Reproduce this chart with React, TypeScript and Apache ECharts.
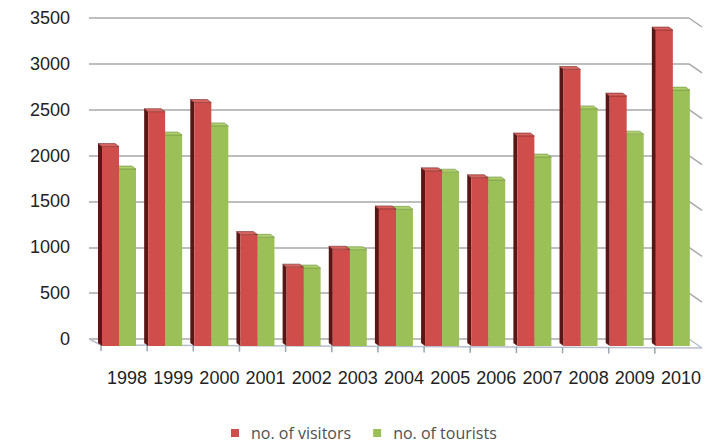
import React, { useEffect, useRef } from "react";
import * as echarts from "echarts";

// Annual counts, 1998–2010
const years = ["1998", "1999", "2000", "2001", "2002", "2003", "2004", "2005", "2006", "2007", "2008", "2009", "2010"];
const visitors = [2175, 2555, 2655, 1215, 860, 1055, 1495, 1910, 1835, 2290, 3015, 2725, 3445];
const tourists = [1930, 2300, 2400, 1185, 850, 1050, 1490, 1895, 1810, 2060, 2585, 2310, 2790];
const yTicks = [0, 500, 1000, 1500, 2000, 2500, 3000, 3500];

const SERIES_NAMES = ["no. of visitors", "no. of tourists"];

// depth offset from the back wall to the front face of the bars
const FRONT_DX = 12;
const FRONT_DY = 7;
// visible thickness of a bar (top / side faces)
const DEPTH_DX = 4;
const DEPTH_DY = 3;
const REF_BAND = 46.15;

const RED = { front: "#cf4e4b", top: "#d9645f", side: "#5a1614" };
const GREEN = { front: "#9cc058", top: "#add06d", side: "#5f7a2c" };

function barRenderer(offsetPx: number, widthPx: number, colors: { front: string; top: string; side: string }) {
  return (_params: any, api: any) => {
    const idx = api.value(0);
    const val = api.value(1);
    const top = api.coord([idx, val]);
    const base = api.coord([idx, 0]);
    const band = api.size([1, 0])[0];
    const s = band / REF_BAND;
    const x0 = top[0] - band / 2 + FRONT_DX + offsetPx * s;
    const x1 = x0 + widthPx * s;
    const yTop = top[1] + FRONT_DY;
    const yBot = base[1] + FRONT_DY;
    return {
      type: "group",
      children: [
        {
          type: "polygon",
          shape: {
            points: [
              [x0, yTop],
              [x0 - DEPTH_DX, yTop - DEPTH_DY],
              [x0 - DEPTH_DX, yBot - DEPTH_DY],
              [x0, yBot],
            ],
          },
          style: { fill: colors.side },
        },
        {
          type: "rect",
          shape: { x: x0, y: yTop, width: x1 - x0, height: yBot - yTop },
          style: { fill: colors.front },
        },
        {
          type: "polygon",
          shape: {
            points: [
              [x0, yTop],
              [x1, yTop],
              [x1 - DEPTH_DX, yTop - DEPTH_DY],
              [x0 - DEPTH_DX, yTop - DEPTH_DY],
            ],
          },
          style: { fill: colors.top, stroke: colors.side, lineWidth: 0.5 },
        },
      ],
    };
  };
}

// floor edges, front ticks and the right-hand wall
function frameRenderer(params: any, api: any) {
  const cs = params.coordSys;
  const left = cs.x;
  const right = cs.x + cs.width;
  const band = api.size([1, 0])[0];
  const zeroY = api.coord([0, 0])[1];
  const children: any[] = [];
  const gridStyle = { stroke: "#a8a8a8", lineWidth: 1.5 };
  const floorStyle = { stroke: "#b6bfcc", lineWidth: 1.5 };
  const rDx = 13;
  const rDy = 9;
  yTicks.forEach((v) => {
    if (v === 0) return;
    const y = api.coord([0, v])[1];
    children.push({
      type: "line",
      shape: { x1: right, y1: y, x2: right + rDx, y2: y + rDy },
      style: gridStyle,
    });
  });
  const fl = [left + FRONT_DX, zeroY + FRONT_DY - 1];
  const fr = [right + rDx, zeroY + rDy];
  children.push({ type: "line", shape: { x1: left, y1: zeroY, x2: fl[0], y2: fl[1] }, style: floorStyle });
  children.push({ type: "line", shape: { x1: fl[0], y1: fl[1], x2: fr[0], y2: fr[1] }, style: floorStyle });
  children.push({ type: "line", shape: { x1: right, y1: zeroY, x2: fr[0], y2: fr[1] }, style: floorStyle });
  for (let k = 0; k < years.length; k++) {
    const x = fl[0] + k * band;
    const t = k / years.length;
    const y = fl[1] + (fr[1] - fl[1]) * t;
    children.push({
      type: "line",
      shape: { x1: x, y1: y, x2: x, y2: y + 6 },
      style: { stroke: "#9aa3ae", lineWidth: 1.5 },
    });
  }
  return { type: "group", children };
}

export default function App() {
  const ref = useRef<HTMLDivElement>(null);

  useEffect(() => {
    if (!ref.current) return;
    const chart = echarts.init(ref.current, null, { renderer: "svg" });
    chart.setOption({
      animation: false,
      backgroundColor: "#ffffff",
      grid: { left: 89, right: 22, top: 18, bottom: 104, containLabel: false },
      legend: {
        data: SERIES_NAMES,
        left: 226,
        top: 419,
        icon: "rect",
        itemWidth: 8,
        itemHeight: 8,
        itemGap: 22,
        textStyle: {
          fontFamily: "Open Sans",
          fontSize: 16,
          lineHeight: 18,
          color: "#505050",
          padding: [0, 0, 0, 7],
        },
      },
      xAxis: {
        type: "category",
        data: years,
        axisLine: { show: false },
        axisTick: { show: false },
        axisLabel: {
          interval: 0,
          margin: 30,
          padding: [0, 0, 0, 30],
          fontFamily: "Liberation Sans, Arial",
          fontSize: 18,
          color: "#222222",
        },
      },
      yAxis: {
        type: "value",
        min: 0,
        max: 3500,
        interval: 500,
        axisLine: { show: false },
        axisTick: { show: false },
        axisLabel: {
          margin: 19,
          fontFamily: "Liberation Sans, Arial",
          fontSize: 18,
          color: "#222222",
          formatter: (v: number) => String(v),
        },
        splitLine: { lineStyle: { color: "#a8a8a8", width: 1.5 } },
      },
      series: [
        {
          name: "frame",
          type: "custom",
          coordinateSystem: "cartesian2d",
          clip: false,
          silent: true,
          z: 1,
          data: [[0, 0]],
          encode: { x: 0, y: 1 },
          renderItem: frameRenderer,
        },
        {
          name: SERIES_NAMES[0],
          type: "custom",
          coordinateSystem: "cartesian2d",
          clip: false,
          z: 4,
          itemStyle: { color: RED.front },
          data: years.map((_, i) => [i, visitors[i]]),
          encode: { x: 0, y: 1 },
          renderItem: barRenderer(1, 17, RED),
        },
        {
          name: SERIES_NAMES[1],
          type: "custom",
          coordinateSystem: "cartesian2d",
          clip: false,
          z: 3,
          itemStyle: { color: GREEN.front },
          data: years.map((_, i) => [i, tourists[i]]),
          encode: { x: 0, y: 1 },
          renderItem: barRenderer(18, 17, GREEN),
        },
      ],
    });
    return () => chart.dispose();
  }, []);

  return (
    <div
      ref={ref}
      style={{ position: "fixed", left: 0, top: 0, width: 711, height: 443, background: "#fff" }}
    />
  );
}
